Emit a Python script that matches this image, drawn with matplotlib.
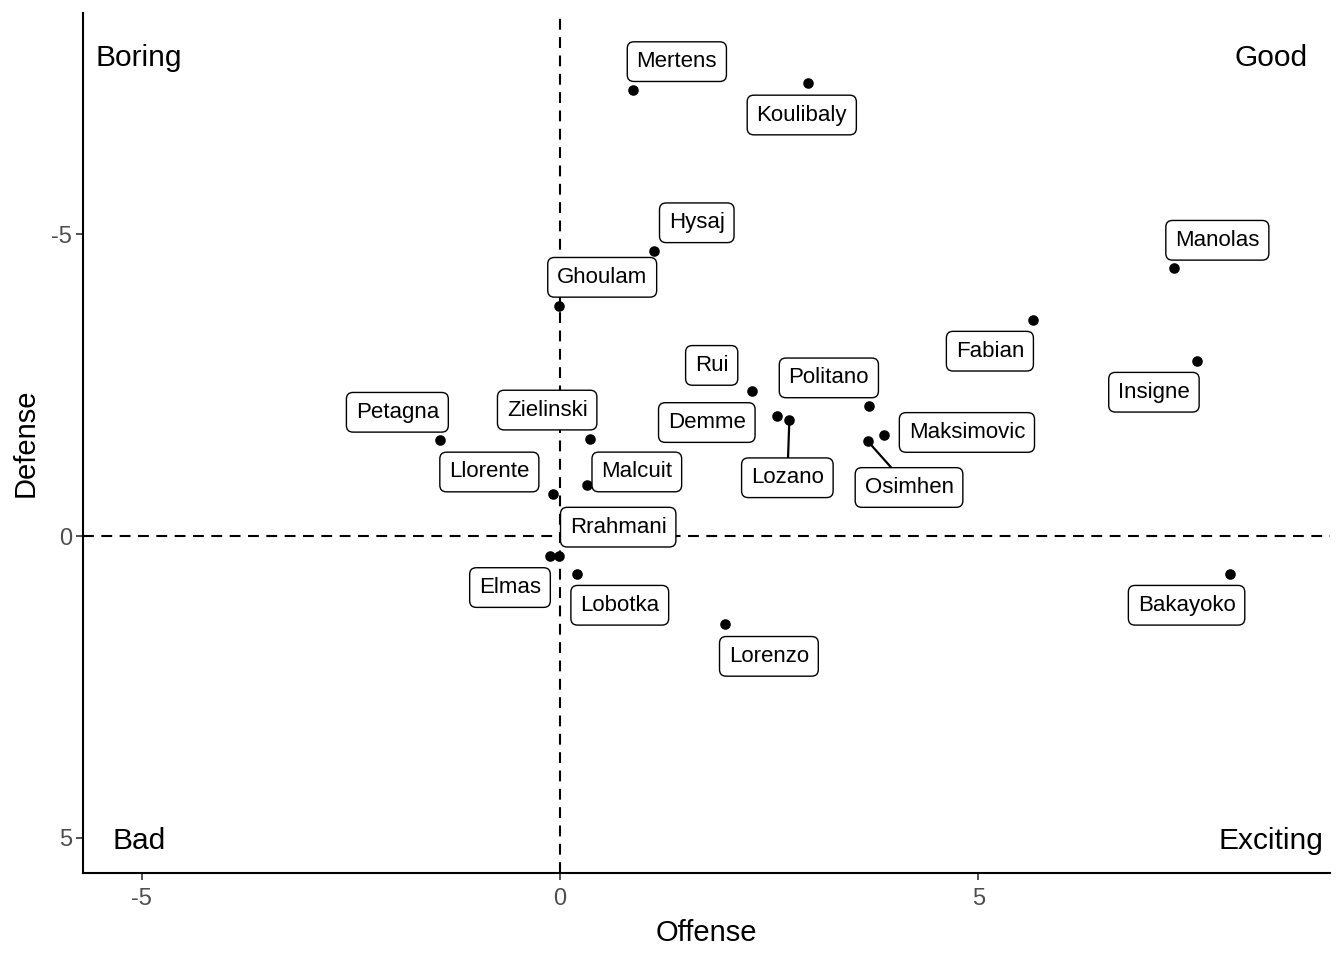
import matplotlib
matplotlib.use("Agg")
import matplotlib.pyplot as plt

plt.rcParams['font.family'] = ['Liberation Sans', 'DejaVu Sans']

players = ["Mertens", "Koulibaly", "Hysaj", "Ghoulam", "Manolas", "Fabian",
           "Insigne", "Rui", "Politano", "Demme", "Lozano", "Maksimovic",
           "Osimhen", "Petagna", "Zielinski", "Llorente", "Malcuit",
           "Rrahmani", "Elmas", "Lobotka", "Lorenzo", "Bakayoko"]
offense = [0.87, 2.96, 1.12, -0.01, 7.34, 5.65,
           7.61, 2.29, 3.69, 2.59, 2.74, 3.87,
           3.68, -1.43, 0.36, -0.08, 0.32,
           -0.01, -0.12, 0.20, 1.97, 8.00]
defense = [-7.40, -7.51, -4.73, -3.81, -4.44, -3.58,
           -2.90, -2.40, -2.16, -2.00, -1.93, -1.67,
           -1.57, -1.59, -1.61, -0.70, -0.85,
           0.33, 0.32, 0.63, 1.46, 0.63]

# label offsets in pixels (dx right, dy down) relative to the point
label_dx = [44, -6, 43, 43, 43, -43, -43, -40, -40, -70, -2, 83, 41, -43, -43, -64, 50, 59, -40, 43, 44, -43]
label_dy = [-28, 32, -28, -29, -28, 31, 31, -26, -28, 7, 58, -3, 46, -28, -29, -22, -13, -29, 32, 31, 32, 31]
with_segment = ["Lozano", "Osimhen"]

quadrants = ["Boring", "Good", "Bad", "Exciting"]
quad_x = [-5.03, 8.50, -5.03, 8.50]
quad_y = [-7.93, -7.93, 5.05, 5.05]

fig = plt.figure(figsize=(13.44, 9.6), dpi=100)
ax = fig.add_axes([83/1344, 87/960, (1330-83)/1344, (873-13)/960])

ax.set_xlim(-5.70, 9.20)
ax.set_ylim(5.58, -8.67)

ax.axhline(0, color='black', lw=1.5, linestyle=(0, (5.2, 3.6)), zorder=1)
ax.axvline(0, color='black', lw=1.5, linestyle=(0, (5.2, 3.6)), zorder=1)

ax.scatter(offense, defense, s=58, color='black', zorder=3, linewidths=0)

px2pt = 0.72
for name, x, y, dx, dy in zip(players, offense, defense, label_dx, label_dy):
    kw = {}
    if name in with_segment:
        kw['arrowprops'] = dict(arrowstyle='-', color='black', lw=1.6,
                                shrinkA=0, shrinkB=2)
    ax.annotate(name, xy=(x, y), xytext=(dx*px2pt, -dy*px2pt),
                textcoords='offset points', ha='center', va='center',
                fontsize=16, color='black', zorder=4,
                bbox=dict(boxstyle='round,pad=0.42,rounding_size=0.3',
                          fc='white', ec='black', lw=1.0),
                **kw)

for q, x, y in zip(quadrants, quad_x, quad_y):
    ax.text(x, y, q, ha='center', va='center', fontsize=21.5, color='black')

ax.set_xticks([-5, 0, 5])
ax.set_yticks([-5, 0, 5])
ax.set_xticklabels(["-5", "0", "5"])
ax.set_yticklabels(["-5", "0", "5"])
ax.tick_params(axis='both', colors='#333333', labelcolor='#4D4D4D',
               labelsize=17, length=5, width=1.2)
ax.tick_params(axis='x', pad=6)
ax.tick_params(axis='y', pad=3)
for s in ['top', 'right']:
    ax.spines[s].set_visible(False)
for s in ['left', 'bottom']:
    ax.spines[s].set_linewidth(1.5)
    ax.spines[s].set_color('black')

ax.set_xlabel("Offense", fontsize=21, labelpad=6)
ax.set_ylabel("Defense", fontsize=21, labelpad=8)

fig.savefig("out.png", dpi=100)
